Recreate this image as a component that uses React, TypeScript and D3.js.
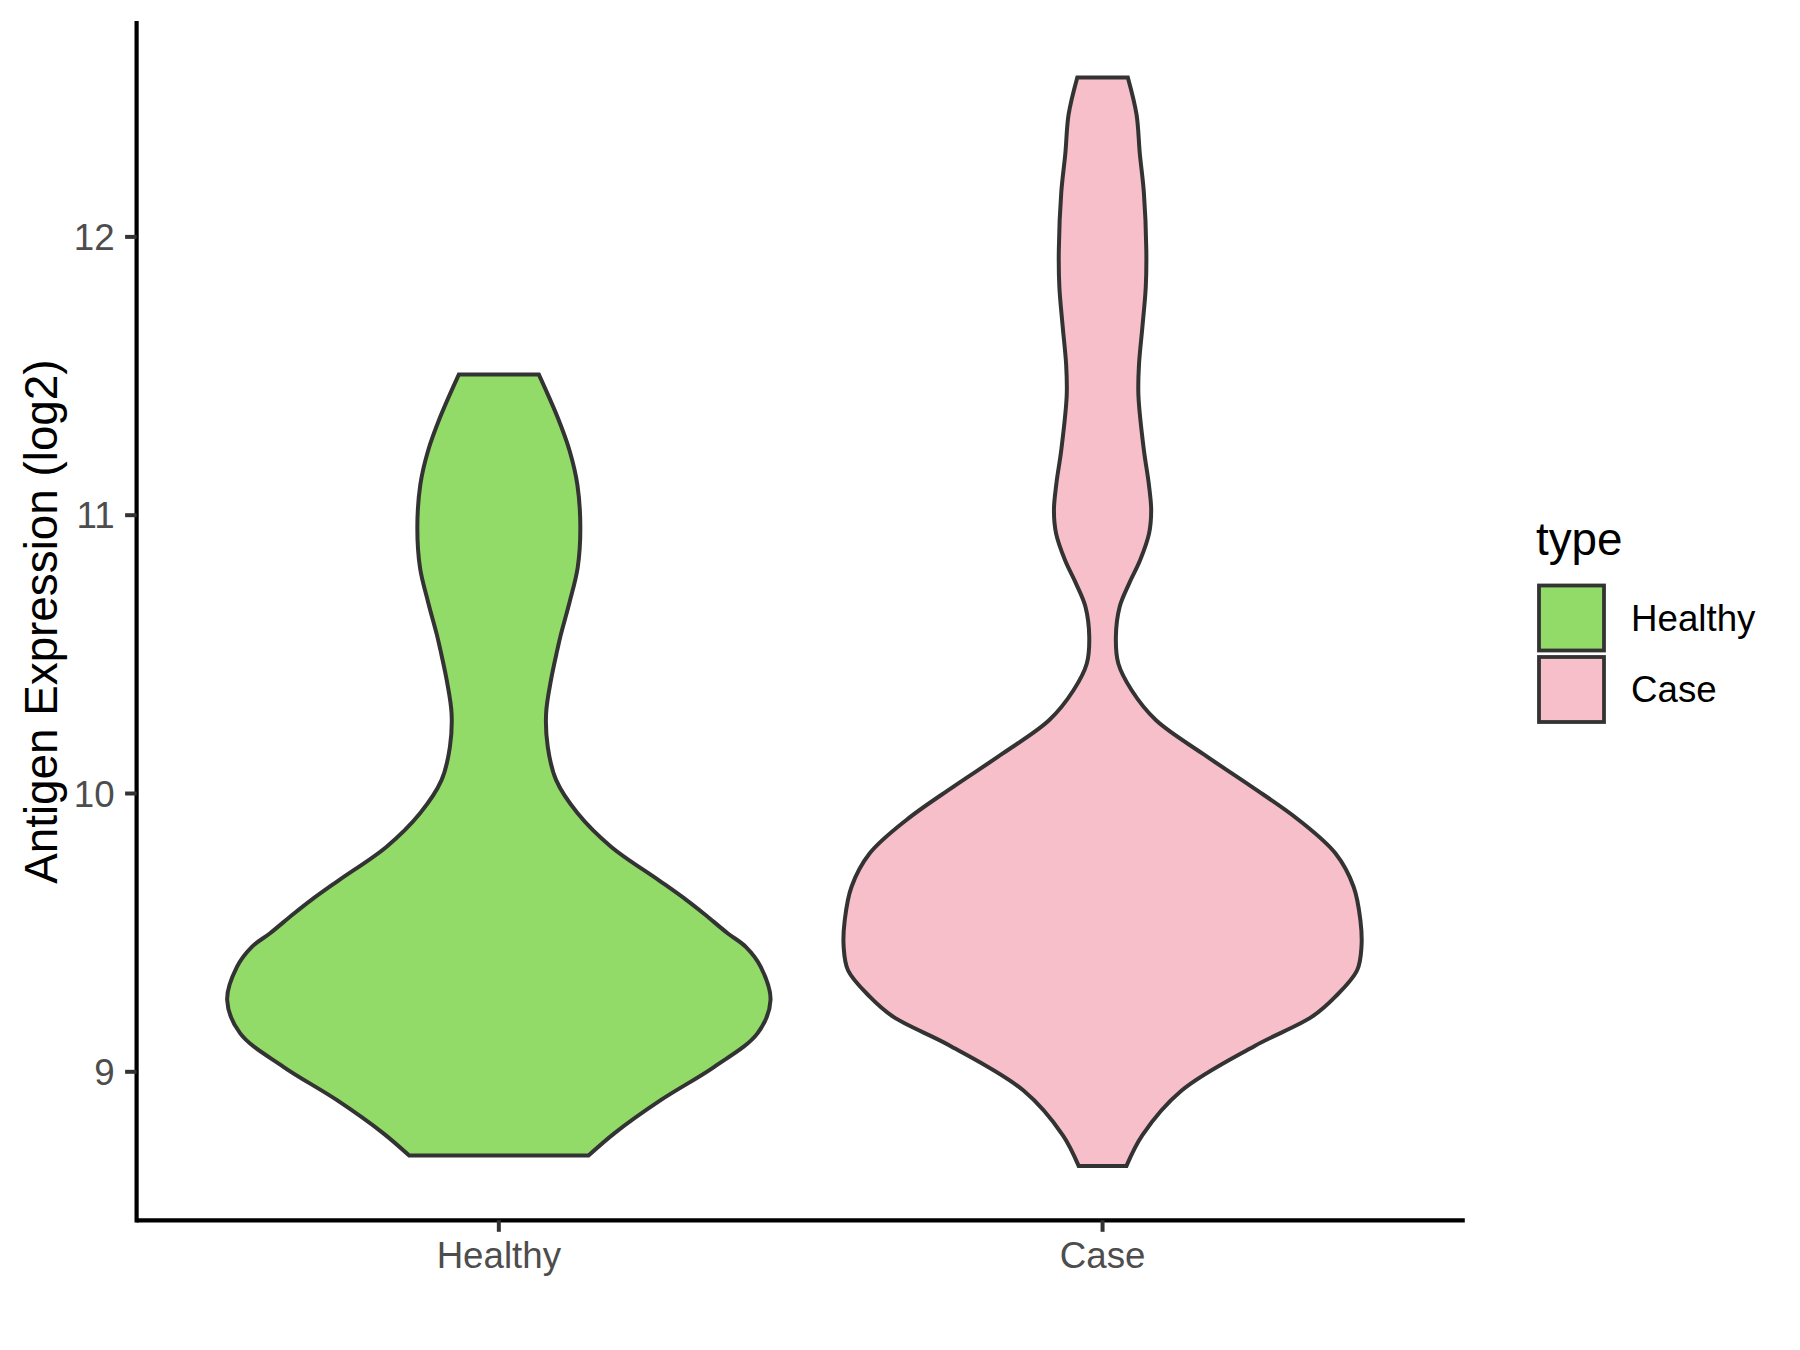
import React from "react";
import * as d3 from "d3";

// Categories and colours
const categories = ["Healthy", "Case"];
const fills = ["#93DB69", "#F7BFCA"];

// Violin outlines: expression value (log2) and relative density (max = 1)
const healthyValues = [8.699, 8.779, 8.899, 9.018, 9.138, 9.258, 9.377, 9.449, 9.498, 9.569, 9.617, 9.689, 9.809, 9.929, 10.048, 10.168, 10.288, 10.408, 10.515, 10.57, 10.69, 10.81, 10.955, 11.11, 11.23, 11.35, 11.506];
const healthyDensity = [0.33, 0.425, 0.597, 0.793, 0.952, 1.0, 0.964, 0.909, 0.842, 0.754, 0.691, 0.588, 0.413, 0.29, 0.211, 0.18, 0.174, 0.192, 0.215, 0.228, 0.261, 0.29, 0.3, 0.289, 0.261, 0.217, 0.147];

const caseValues = [8.662, 8.772, 8.932, 9.093, 9.198, 9.27, 9.365, 9.449, 9.545, 9.665, 9.785, 9.905, 10.024, 10.144, 10.264, 10.371, 10.467, 10.563, 10.671, 10.755, 10.838, 10.934, 11.018, 11.114, 11.234, 11.43, 11.54, 11.68, 11.82, 11.955, 12.16, 12.3, 12.44, 12.573];
const caseDensity = [0.088, 0.146, 0.29, 0.56, 0.771, 0.857, 0.937, 0.953, 0.949, 0.924, 0.857, 0.722, 0.55, 0.367, 0.196, 0.107, 0.058, 0.049, 0.063, 0.098, 0.138, 0.171, 0.179, 0.17, 0.152, 0.132, 0.134, 0.147, 0.159, 0.161, 0.152, 0.137, 0.125, 0.093];

const yTicks = [9, 10, 11, 12];
const yTitle = "Antigen Expression (log2)";
const legendTitle = "type";

const W = 1800;
const H = 1350;
const panel = { left: 136.6, right: 1464.8, top: 23, bottom: 1220.3 };
const FONT = "'Liberation Sans', Arial, Helvetica, sans-serif";

export default function App() {
  const series = [
    { name: categories[0], values: healthyValues, density: healthyDensity, fill: fills[0] },
    { name: categories[1], values: caseValues, density: caseDensity, fill: fills[1] },
  ];

  const allVals = [...healthyValues, ...caseValues];
  const [vmin, vmax] = d3.extent(allVals) as [number, number];
  const pad = (vmax - vmin) * 0.05;
  const y = d3.scaleLinear().domain([vmin - pad, vmax + pad]).range([panel.bottom, panel.top]);
  const x = d3.scalePoint<string>().domain(categories).range([panel.left, panel.right]).padding(0.6);
  const step = x.step();
  const w = d3.scaleLinear().domain([0, 1]).range([0, 0.45 * step]);

  const outline = "#333333";

  return (
    <svg width={W} height={H} style={{ position: "absolute", left: 0, top: 0, background: "#fff" }} fontFamily={FONT}>
      <rect x={0} y={0} width={W} height={H} fill="#fff" />
      {series.map((s) => {
        const cx = x(s.name)!;
        const pts = s.values.map((v, i) => ({ v, d: s.density[i] }));
        const area = d3
          .area<{ v: number; d: number }>()
          .y((p) => y(p.v))
          .x0((p) => cx - w(p.d))
          .x1((p) => cx + w(p.d))
          .curve(d3.curveCatmullRom.alpha(0.5));
        return (
          <path key={s.name} d={area(pts)!} fill={s.fill} stroke={outline} strokeWidth={4} strokeLinejoin="miter" />
        );
      })}

      {/* axes */}
      <line x1={panel.left} x2={panel.left} y1={panel.top} y2={panel.bottom} stroke="#000" strokeWidth={4.2} strokeLinecap="square" />
      <line x1={panel.left} x2={panel.right} y1={panel.bottom} y2={panel.bottom} stroke="#000" strokeWidth={4.2} strokeLinecap="butt" />

      {yTicks.map((t) => (
        <g key={t}>
          <line x1={panel.left - 11.5} x2={panel.left} y1={y(t)} y2={y(t)} stroke="#333333" strokeWidth={4} />
          <text x={panel.left - 22} y={y(t)} dy="0.36em" textAnchor="end" fontSize={36.7} fill="#4D4D4D">
            {t}
          </text>
        </g>
      ))}

      {categories.map((c) => (
        <g key={c}>
          <line x1={x(c)} x2={x(c)} y1={panel.bottom} y2={panel.bottom + 11.5} stroke="#333333" strokeWidth={4} />
          <text x={x(c)} y={1268} textAnchor="middle" fontSize={36.7} fill="#4D4D4D">
            {c}
          </text>
        </g>
      ))}

      <text
        transform={`translate(57,${(panel.top + panel.bottom) / 2}) rotate(-90)`}
        textAnchor="middle"
        fontSize={45.8}
        fill="#000"
      >
        {yTitle}
      </text>

      {/* legend */}
      <text x={1536} y={555} fontSize={45.8} fill="#000">
        {legendTitle}
      </text>
      {series.map((s, i) => (
        <g key={s.name}>
          <rect x={1539} y={585.5 + i * 71.5} width={65} height={65} fill={s.fill} stroke={outline} strokeWidth={3.8} />
          <text x={1631} y={630.5 + i * 71.5} fontSize={36.7} fill="#000">
            {s.name}
          </text>
        </g>
      ))}
    </svg>
  );
}
